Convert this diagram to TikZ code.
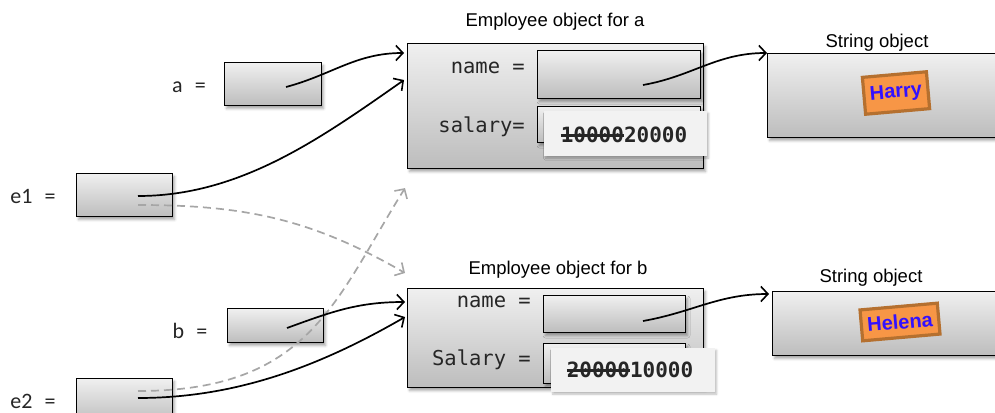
\documentclass[tikz,border=0pt]{standalone}
\usepackage{fontspec}
\setmainfont{Liberation Sans}
\newfontfamily\monofont{DejaVu Sans Mono}
\newfontfamily\labfont{Carlito}
\usetikzlibrary{arrows.meta,shadows.blur,calc}

% struck-through text: a rule laid over the boxed word
\newsavebox\strkbox
\newcommand\strk[1]{\leavevmode\sbox\strkbox{#1}\rlap{\rule[0.28em]{\wd\strkbox}{2.6pt}}\usebox\strkbox}

\definecolor{tagfill}{HTML}{F79646}
\definecolor{tagedge}{HTML}{B5702F}
\definecolor{tagtext}{HTML}{3311FF}

\begin{document}
\begin{tikzpicture}[x=1pt,y=-1pt,
  box/.style={draw=black, line width=1.1pt, top color=gray!12, bottom color=gray!52,
    inner sep=0pt, anchor=north west,
    blur shadow={shadow xshift=2pt, shadow yshift=-3pt, shadow blur radius=2.5pt, shadow opacity=35}},
  valbox/.style={fill=black!5, inner sep=0pt, anchor=north west,
    blur shadow={shadow xshift=1.5pt, shadow yshift=-2pt, shadow blur radius=2pt, shadow opacity=25}},
  varlab/.style={font=\labfont\fontsize{22}{26}\selectfont, text=black!85, inner sep=0pt},
  fieldlab/.style={font=\monofont\fontsize{20.5}{24}\selectfont, text=black!85, inner sep=0pt},
  valtext/.style={font=\monofont\bfseries\fontsize{21}{24}\selectfont, text=black!85, inner sep=0pt},
  title/.style={font=\fontsize{18.5}{22}\selectfont, inner sep=0pt},
  tag/.style={fill=tagfill, draw=tagedge, line width=3.2pt,
    font=\bfseries\fontsize{20}{23}\selectfont, text=tagtext, inner xsep=6pt, inner ysep=0pt},
  ptr/.style={line width=1.7pt, -{Straight Barb[length=7pt, width=15pt, line width=1.6pt]}},
  gptr/.style={ptr, draw=black!35, dash pattern=on 8pt off 5pt},
]
\useasboundingbox (0,0) rectangle (995,412);
\clip (0,0) rectangle (995,412);

% reference variables
\node[varlab] (la) at (189,87) {a\hspace{0.55em}=};
\node[box, minimum width=97pt, minimum height=43pt] (a) at (224,62) {};
\node[varlab] (le1) at (33,196) {e1\hspace{0.55em}=};
\node[box, minimum width=96pt, minimum height=43pt] (e1) at (76,173) {};
\node[varlab] (lb) at (190,331) {b\hspace{0.55em}=};
\node[box, minimum width=96pt, minimum height=34pt] (b) at (227,308) {};
\node[varlab] (le2) at (33,401) {e2\hspace{0.55em}=};
\node[box, minimum width=96pt, minimum height=45pt] (e2) at (76,378) {};

% Employee object for a
\node[title] (ta) at (555,22) {Employee object for a};
\node[box, minimum width=296pt, minimum height=125pt] (empA) at (407,43) {};
\node[fieldlab, anchor=east] (nameA) at (525,68) {name =};
\node[fieldlab, anchor=east] (salA) at (525,127) {salary=};
\node[box, minimum width=163pt, minimum height=48pt] (nfA) at (537,50) {};
\node[box, minimum width=163pt, minimum height=36pt] (sfA) at (537,106) {};
\node[valbox, minimum width=163pt, minimum height=45pt] (vA) at (544,111) {};
\node[valtext] (vtA) at (624,135) {\strk{10000}20000};

% Employee object for b
\node[title] (tb) at (558,270) {Employee object for b};
\node[box, minimum width=296pt, minimum height=99pt] (empB) at (407,288) {};
\node[fieldlab, anchor=east] (nameB) at (531,302) {name =};
\node[fieldlab, anchor=east] (salB) at (531,360) {Salary =};
\node[box, minimum width=142pt, minimum height=37pt] (nfB) at (543,295) {};
\node[box, minimum width=142pt, minimum height=40pt] (sfB) at (543,343) {};
\node[valbox, minimum width=164pt, minimum height=44pt] (vB) at (551,348) {};
\node[valtext] (vtB) at (630,370) {\strk{20000}10000};

% String objects
\node[title] (tsa) at (877,43) {String object};
\node[box, minimum width=260pt, minimum height=84pt] (strA) at (767,53) {};
\node[tag, rotate=5, minimum height=37pt] (harry) at (896,93) {Harry};
\node[title] (tsb) at (871,278) {String object};
\node[box, minimum width=260pt, minimum height=64pt] (strB) at (772,291) {};
\node[tag, rotate=5, minimum height=31pt] (helena) at (900,322) {Helena};

% pointer start points
\coordinate (pa) at ($(a.north west)+(62,25)$);
\coordinate (pe1) at ($(e1.north west)+(62,23)$);
\coordinate (pe1old) at ($(e1.north west)+(62,32)$);
\coordinate (pb) at ($(b.north west)+(60,20)$);
\coordinate (pe2) at ($(e2.north west)+(62,20)$);
\coordinate (pe2old) at ($(e2.north west)+(62,13)$);
\coordinate (pnA) at ($(nfA.north west)+(106,35)$);
\coordinate (pnB) at ($(nfB.north west)+(100,26)$);

% old references (dashed)
\draw[gptr] (pe1old) to[out=0, in=150] ($(empB.north west)+(-2,-15)$);
\draw[gptr] (pe2old) .. controls (310,391) and (335,300) .. ($(empA.south west)+(-2,19)$);

% current references
\draw[ptr] (pa) to[out=15, in=180] ($(empA.north west)+(-3,10)$);
\draw[ptr] (pe1) to[out=0, in=215, looseness=0.9] ($(empA.north west)+(-3,37)$);
\draw[ptr] (pb) to[out=20, in=180] ($(empB.north west)+(-2,14)$);
\draw[ptr] (pe2) to[out=0, in=210, looseness=0.9] ($(empB.north west)+(-2,29)$);
\draw[ptr] (pnA) to[out=10, in=180] ($(strA.north west)+(0,0)$);
\draw[ptr] (pnB) to[out=10, in=180] ($(strB.north west)+(-3,3)$);
\end{tikzpicture}
\end{document}
